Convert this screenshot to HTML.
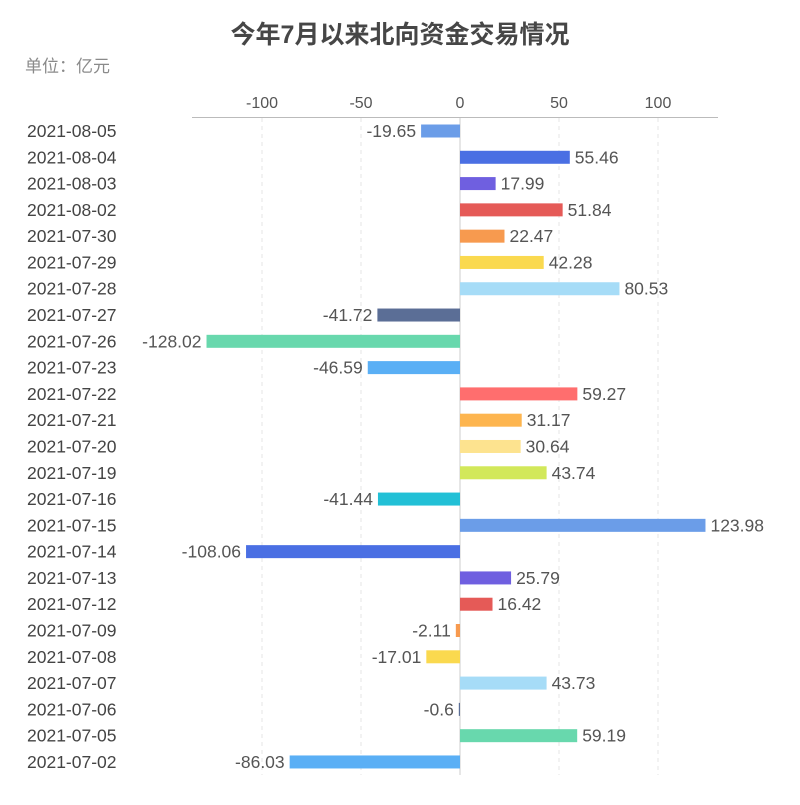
<!DOCTYPE html>
<html><head><meta charset="utf-8"><style>
body{margin:0;background:#fff;width:800px;height:800px;overflow:hidden;font-family:"Liberation Sans","Noto Sans CJK SC",sans-serif}
</style></head><body>
<svg width="800" height="800" id="chart" xmlns="http://www.w3.org/2000/svg">
<text x="400" y="43" text-anchor="middle" font-size="25" font-weight="bold" fill="#464646" font-family="Liberation Sans, Noto Sans CJK SC, sans-serif">今年7月以来北向资金交易情况</text>
<text x="25" y="72" font-size="17" fill="#8a8a8a" font-family="Liberation Sans, Noto Sans CJK SC, sans-serif">单位：亿元</text>
<g id="grid"></g><g id="bars"></g><g id="labels"></g>
</svg>
<script>
const categories=["2021-08-05","2021-08-04","2021-08-03","2021-08-02","2021-07-30","2021-07-29","2021-07-28","2021-07-27","2021-07-26","2021-07-23","2021-07-22","2021-07-21","2021-07-20","2021-07-19","2021-07-16","2021-07-15","2021-07-14","2021-07-13","2021-07-12","2021-07-09","2021-07-08","2021-07-07","2021-07-06","2021-07-05","2021-07-02"];
const values=[-19.65,55.46,17.99,51.84,22.47,42.28,80.53,-41.72,-128.02,-46.59,59.27,31.17,30.64,43.74,-41.44,123.98,-108.06,25.79,16.42,-2.11,-17.01,43.73,-0.6,59.19,-86.03];
const ticks=[-100,-50,0,50,100];
const colors=['#6b9de8','#4a6fe3','#6f5fe0','#e55a57','#f79a4f','#fad94f','#a6dcf7','#5b6e96','#68d8ad','#5aaff5','#ff6e6e','#fdb54f','#fde38f','#d2e85a','#22c0d6'];
const NS='http://www.w3.org/2000/svg';
const x=v=>460+v*1.98;
const y=i=>131+i*26.29;
function mk(t,a,p){const e=document.createElementNS(NS,t);for(const k in a)e.setAttribute(k,a[k]);p.appendChild(e);return e;}
const grid=document.getElementById('grid'),bars=document.getElementById('bars'),labels=document.getElementById('labels');
const ax=mk('line',{x1:192,x2:718,y1:117.5,y2:117.5,stroke:'#bbb'},grid);


ticks.forEach(t=>{
  const l=mk('line',{x1:x(t),x2:x(t),y1:118,y2:775,stroke:t===0?'#ccc':'#e6e6e6','stroke-dasharray':t===0?'none':'4,4'},grid);
  
  
  const tx=mk('text',{x:x(t),y:108,'text-anchor':'middle','font-size':16,fill:'#555'},grid);
  tx.textContent=t;
  
  
});
categories.forEach((c,i)=>{
  const v=values[i],cy=y(i);
  const cl=mk('text',{x:27,y:cy+6,'font-size':17.5,fill:'#444'},labels);
  cl.textContent=c;
  
  
  const x0=Math.min(x(0),x(v)),w=Math.abs(x(v)-x(0));
  const r=mk('rect',{x:x0,y:cy-6.5,width:Math.max(w,1),height:13,fill:colors[i%colors.length]},bars);
  
  
  const vl=mk('text',{x:v>=0?x(v)+5:x(v)-5,y:cy+6,'text-anchor':v>=0?'start':'end','font-size':17.5,fill:'#555'},labels);
  vl.textContent=v;
  
  
});
</script>
</body></html>
